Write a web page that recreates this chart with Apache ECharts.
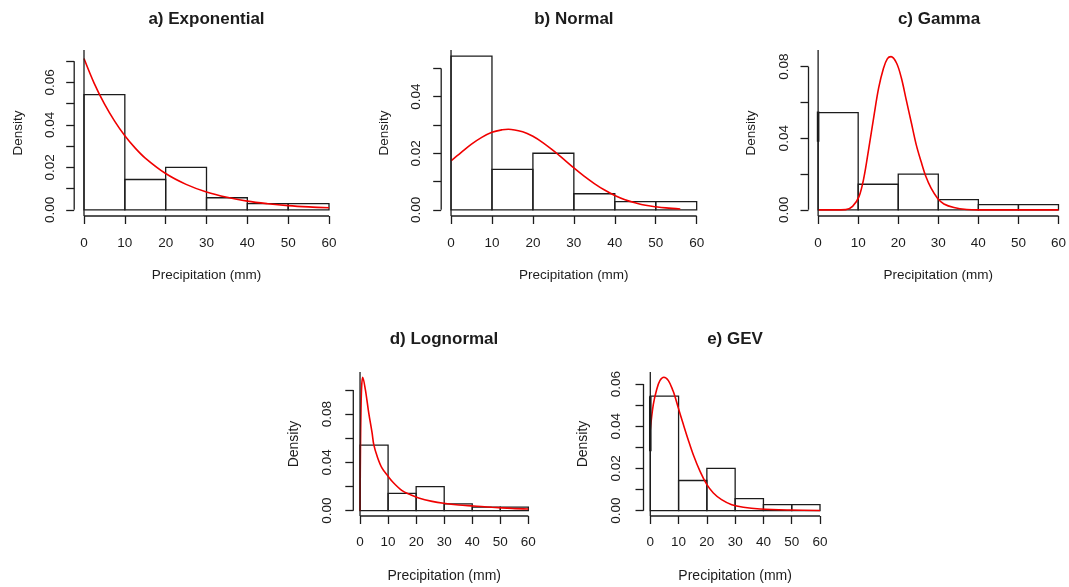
<!DOCTYPE html>
<html><head><meta charset="utf-8">
<script src="https://cdn.jsdelivr.net/npm/echarts@6/dist/echarts.min.js"></script>
<style>html,body{margin:0;padding:0;background:#fff}#c{width:1069px;height:587px}</style>
</head><body><div id="c"></div>
<script>
// ---- data ----
const binEdges = [0, 10, 20, 30, 40, 50, 60];
const densities = [0.0543, 0.0143, 0.0200, 0.0057, 0.0029, 0.0029];
const xTicks = [0, 10, 20, 30, 40, 50, 60];
const panelTitles = ['a) Exponential', 'b) Normal', 'c) Gamma', 'd) Lognormal', 'e) GEV'];

const expCurve = [[0,0.0713],[2.5,0.0596],[5,0.0499],[7.5,0.0418],[10,0.0349],[12.5,0.0292],[15,0.0244],[20,0.0171],[25,0.0120],[30,0.0084],[35,0.0059],[40,0.0041],[45,0.0029],[50,0.0020],[55,0.0014],[60,0.0010]];
const normCurve = [[0,0.0173],[2.5,0.0203],[5,0.0232],[7.5,0.0256],[10,0.0274],[12.5,0.0283],[14,0.0285],[17.5,0.0276],[20,0.0260],[22.5,0.0237],[25,0.0209],[27.5,0.0179],[30,0.0148],[32.5,0.0119],[35,0.0093],[37.5,0.0070],[40,0.0051],[42.5,0.0036],[45,0.0025],[47.5,0.0016],[50,0.0011],[52.5,0.0007],[56,0.0003]];
const gammaCurve = [[0,0],[4,0],[6.9,0.0001],[8.6,0.0019],[10.2,0.0074],[11.4,0.0177],[12.65,0.0344],[13.9,0.0520],[15.1,0.0680],[16.3,0.0790],[17.3,0.0845],[18.2,0.0856],[19.6,0.0819],[20.8,0.0735],[22.0,0.0614],[23.3,0.0484],[24.5,0.0363],[25.7,0.0270],[26.9,0.0186],[28.2,0.0121],[29.8,0.0065],[31.4,0.0033],[33.9,0.0013],[37.1,0.0002],[40,0],[50,0],[60,0]];
const lognormCurve = [[0,0],[0.15,0.050],[0.35,0.085],[0.6,0.104],[0.95,0.1105],[1.9,0.1003],[3.1,0.0810],[4.3,0.0644],[4.9,0.0547],[6.1,0.0450],[7.8,0.0354],[10,0.0285],[12,0.0229],[15,0.0166],[17.9,0.0133],[20.9,0.0105],[25.7,0.0077],[29.8,0.0061],[35.2,0.0047],[40.5,0.0039],[47,0.0028],[54.2,0.0019],[60,0.0014]];
const gevCurve = [[0,0.0384],[1.06,0.0502],[2.24,0.0573],[3.4,0.0616],[4.8,0.0632],[6.4,0.0616],[8.1,0.0566],[8.7,0.0542],[9.9,0.0487],[11.7,0.0408],[13.4,0.0336],[15.2,0.0265],[17.6,0.0186],[19.9,0.0126],[22.3,0.0084],[25.2,0.0052],[28.8,0.0028],[32.9,0.0016],[38.8,0.0008],[49.4,0.0003],[60,0.0001]];

const yTicksA = [0,0.01,0.02,0.03,0.04,0.05,0.06,0.07];
const yLabelsA = [0,0.02,0.04,0.06];
const yTicksB = [0,0.01,0.02,0.03,0.04,0.05];
const yLabelsB = [0,0.02,0.04];
const yTicksC = [0,0.02,0.04,0.06,0.08];
const yLabelsC = [0,0.04,0.08];
const yTicksD = [0,0.02,0.04,0.06,0.08,0.10];
const yLabelsD = [0,0.04,0.08];
const yTicksE = [0,0.01,0.02,0.03,0.04,0.05,0.06];
const yLabelsE = [0,0.02,0.04,0.06];

// odd black segments on the x=0 line (panels c, e)
const gammaSeg = [[0,0.0381],[0,0.0549]];
const gevSeg = [[0,0.0281],[0,0.0542]];

// ---- layout ----
const curves = [expCurve, normCurve, gammaCurve, lognormCurve, gevCurve];
const yTicks = [yTicksA, yTicksB, yTicksC, yTicksD, yTicksE];
const yLabels = [yLabelsA, yLabelsB, yLabelsC, yLabelsD, yLabelsE];
const extraSegs = [null, null, gammaSeg, null, gevSeg];
const layout = [
  {left:74.2, top:50, width:264.6, height:166, ymin:-0.0029, ymax:0.0753, fs:13.5, nfs:13.5, ym:17, xm:20, yng:49, xng:52, tx:206.5, ty:19},
  {left:441.2, top:50, width:265.3, height:166, ymin:-0.00217, ymax:0.0565, fs:13.5, nfs:13.5, ym:18, xm:20, yng:50, xng:52, tx:573.9, ty:19},
  {left:808.5, top:50, width:264.6, height:166, ymin:-0.00344, ymax:0.0893, fs:13.5, nfs:13.5, ym:17, xm:20, yng:50, xng:52, tx:939, ty:19},
  {left:353.3, top:372, width:181.8, height:144, ymin:-0.00442, ymax:0.1149, fs:13.5, nfs:14, ym:19, xm:19, yng:52, xng:53, tx:444, ty:339},
  {left:643.5, top:372, width:183.3, height:144, ymin:-0.00253, ymax:0.0657, fs:13.5, nfs:14, ym:20, xm:19, yng:53, xng:53, tx:735, ty:339}
];
const XMIN = -2.4, XMAX = 62.4;
const INK = '#1c1c1c';
const FONT = '"Liberation Sans", Arial, sans-serif';

const grid = [], xAxis = [], yAxis = [], series = [], graphic = [];
const histData = densities.map((d, j) => [binEdges[j], binEdges[j+1], d]);

layout.forEach((L, i) => {
  grid.push({left:L.left, top:L.top, width:L.width, height:L.height, containLabel:false});
  xAxis.push({
    type:'value', gridIndex:i, min:XMIN, max:XMAX,
    axisLine:{show:false, onZero:false}, splitLine:{show:false},
    axisTick:{show:true, customValues:xTicks, length:8, lineStyle:{color:INK, width:1.3}},
    axisLabel:{show:true, customValues:xTicks, margin:L.xm, fontSize:L.fs, color:INK, fontFamily:FONT, formatter:v=>String(Math.round(v))},
    name:'Precipitation (mm)', nameLocation:'middle', nameGap:L.xng,
    nameTextStyle:{fontSize:L.nfs, color:INK, fontFamily:FONT}
  });
  yAxis.push({
    type:'value', gridIndex:i, min:L.ymin, max:L.ymax,
    axisLine:{show:false, onZero:false}, splitLine:{show:false},
    axisTick:{show:true, customValues:yTicks[i], length:8, lineStyle:{color:INK, width:1.3}},
    axisLabel:{show:true, customValues:yLabels[i], rotate:90, margin:L.ym, fontSize:L.fs, color:INK, fontFamily:FONT, formatter:v=>v.toFixed(2)},
    name:'Density', nameLocation:'middle', nameGap:L.yng,
    nameTextStyle:{fontSize:L.nfs, color:INK, fontFamily:FONT}
  });
  // histogram
  series.push({
    type:'custom', xAxisIndex:i, yAxisIndex:i, data:histData, encode:{x:[0,1], y:2},
    renderItem:(params, api) => {
      const p0 = api.coord([api.value(0), api.value(2)]);
      const p1 = api.coord([api.value(1), 0]);
      return {type:'rect', shape:{x:p0[0], y:p0[1], width:p1[0]-p0[0], height:p1[1]-p0[1]},
        style:{fill:'none', stroke:INK, lineWidth:1.3}};
    }, z:2
  });
  // fitted curve
  series.push({
    type:'line', xAxisIndex:i, yAxisIndex:i, data:curves[i], showSymbol:false, smooth:0.35,
    lineStyle:{color:'#f00000', width:1.6}, itemStyle:{color:'#f00000'}, z:3, silent:true
  });
  // vertical reference line at x = 0 spanning plot region
  series.push({
    type:'line', xAxisIndex:i, yAxisIndex:i, data:[[0, L.ymin],[0, L.ymax]], showSymbol:false,
    lineStyle:{color:INK, width:1.3}, z:4, silent:true
  });
  // axis lines (R style: only over the tick range)
  const yt = yTicks[i];
  series.push({
    type:'line', xAxisIndex:i, yAxisIndex:i, data:[[XMIN, yt[0]],[XMIN, yt[yt.length-1]]], showSymbol:false, clip:false,
    lineStyle:{color:INK, width:1.3}, z:4, silent:true
  });
  series.push({
    type:'line', xAxisIndex:i, yAxisIndex:i, data:[[xTicks[0], L.ymin],[xTicks[xTicks.length-1], L.ymin]], showSymbol:false, clip:false,
    lineStyle:{color:INK, width:1.3}, z:4, silent:true
  });
  if (extraSegs[i]) {
    series.push({
      type:'line', xAxisIndex:i, yAxisIndex:i, data:extraSegs[i], showSymbol:false,
      lineStyle:{color:INK, width:2.6}, z:5, silent:true
    });
  }
  graphic.push({
    type:'text', x:L.tx, y:L.ty,
    style:{text:panelTitles[i], font:'bold 17px ' + FONT, fill:INK, align:'center', verticalAlign:'middle', textAlign:'center', textVerticalAlign:'middle'}
  });
});

const chart = echarts.init(document.getElementById('c'), null, {renderer:'canvas'});
chart.setOption({animation:false, backgroundColor:'#fff', grid, xAxis, yAxis, series, graphic});
</script></body></html>
